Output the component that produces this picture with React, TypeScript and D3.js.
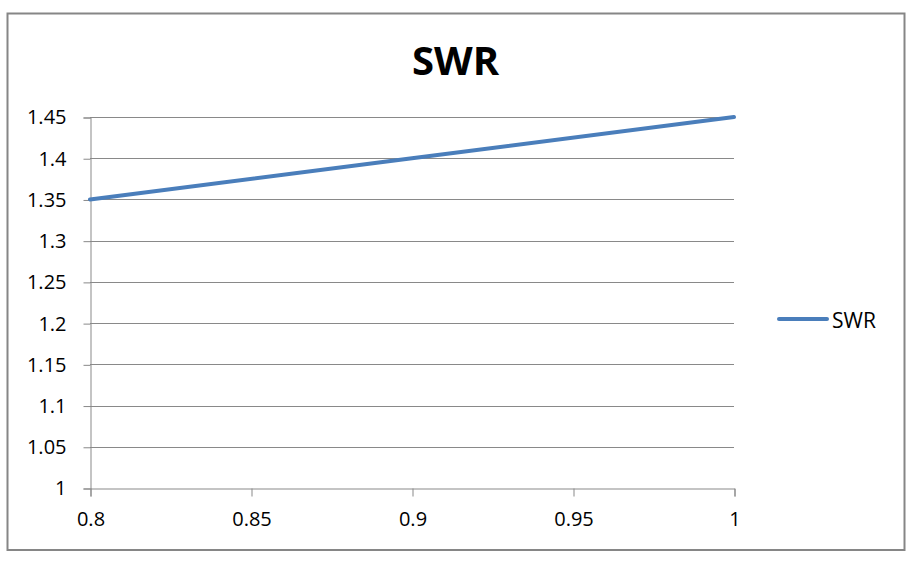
import * as React from "react";
import * as d3 from "d3";

const xValues = [0.8, 0.9, 1];
const swrValues = [1.35, 1.4, 1.45];
const xTicks = [0.8, 0.85, 0.9, 0.95, 1];
const yTicks = [1, 1.05, 1.1, 1.15, 1.2, 1.25, 1.3, 1.35, 1.4, 1.45];
const seriesName = "SWR";
const chartTitle = "SWR";

const W = 920;
const H = 570;
const FONT = "'Open Sans', 'Liberation Sans', sans-serif";

export default function App() {
  const node = React.useRef<SVGSVGElement | null>(null);

  React.useEffect(() => {
    const svg = d3.select(node.current);
    svg.selectAll("*").remove();

    const left = 90, right = 734, top = 117, bottom = 488;

    const x = d3.scaleLinear().domain([0.8, 1]).range([left, right]);
    const y = d3.scaleLinear().domain([1, 1.45]).range([bottom, top]);

    svg.append("rect")
      .attr("width", W).attr("height", H).attr("fill", "#fff");

    // outer border
    svg.append("rect")
      .attr("x", 7.5).attr("y", 13.5)
      .attr("width", 897).attr("height", 536.5)
      .attr("fill", "#fff")
      .attr("stroke", "#868686")
      .attr("stroke-width", 2);

    svg.append("text")
      .attr("x", 455.5).attr("y", 75)
      .attr("text-anchor", "middle")
      .attr("font-family", FONT)
      .attr("font-weight", "bold")
      .attr("font-size", 40)
      .attr("fill", "#000")
      .text(chartTitle);

    // gridlines
    svg.append("g").selectAll("line")
      .data(yTicks.filter(d => d > 1))
      .join("line")
      .attr("x1", left).attr("x2", right)
      .attr("y1", d => Math.round(y(d)) + 0.5)
      .attr("y2", d => Math.round(y(d)) + 0.5)
      .attr("stroke", "#898989")
      .attr("stroke-width", 1);

    // y axis
    const yAxis = svg.append("g")
      .attr("transform", `translate(${left + 0.5},0.5)`)
      .call(d3.axisLeft(y).tickValues(yTicks).tickSize(7).tickPadding(17)
        .tickFormat(d => d3.format("")(+d)));
    yAxis.select(".domain").attr("stroke", "#898989");
    yAxis.selectAll(".tick line").attr("stroke", "#898989");
    yAxis.selectAll(".tick text")
      .attr("font-family", FONT).attr("font-size", 20).attr("fill", "#000");

    // x axis
    const xAxis = svg.append("g")
      .attr("transform", `translate(0.5,${bottom + 0.5})`)
      .call(d3.axisBottom(x).tickValues(xTicks).tickSize(8).tickPadding(15)
        .tickFormat(d => d3.format("")(+d)));
    xAxis.select(".domain").attr("stroke", "#898989");
    xAxis.selectAll(".tick line").attr("stroke", "#898989");
    xAxis.selectAll(".tick text")
      .attr("font-family", FONT).attr("font-size", 20).attr("fill", "#000");

    const line = d3.line<number>()
      .x((d, i) => x(xValues[i]))
      .y(d => y(d));

    svg.append("path")
      .datum(swrValues)
      .attr("fill", "none")
      .attr("stroke", "#4a7ebb")
      .attr("stroke-width", 4)
      .attr("stroke-linecap", "round")
      .attr("d", line);

    // legend
    svg.append("line")
      .attr("x1", 779).attr("x2", 827)
      .attr("y1", 319).attr("y2", 319)
      .attr("stroke", "#4a7ebb")
      .attr("stroke-width", 4)
      .attr("stroke-linecap", "round");
    svg.append("text")
      .attr("x", 832).attr("y", 328)
      .attr("font-family", FONT).attr("font-size", 21)
      .attr("fill", "#000")
      .text(seriesName);
  }, []);

  return (
    <svg ref={node} width={W} height={H}
      style={{ position: "absolute", left: 0, top: 0, display: "block" }} />
  );
}
